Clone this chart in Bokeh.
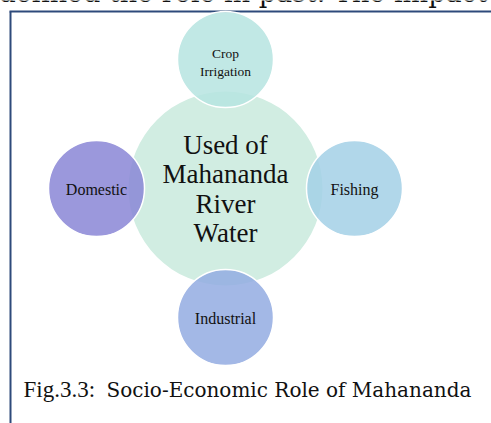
from bokeh.plotting import figure
from bokeh.models import Range1d, ColumnDataSource
from bokeh.core.properties import value
from bokeh.embed import file_html
from bokeh.resources import INLINE
import math

# --- data ---
center_label = ["Used of", "Mahananda", "River", "Water"]
uses = ["Crop\nIrrigation", "Fishing", "Industrial", "Domestic"]
use_angles_deg = [90, 0, 270, 180]
use_colors = ["#b6e4e0", "#a3d0e6", "#93ace2", "#8a86d6"]
center_color = "#d1ede2"
caption_bold = "Fig.3.3:"
caption_rest = "Socio-Economic Role of Mahananda"
top_text = "defined the role in past. The impact"

SERIF = value("'Liberation Serif'")
WIDE = value("'DejaVu Serif'")

W, H = 491, 423
p = figure(width=W, height=H, output_backend="svg", toolbar_location=None,
           x_range=Range1d(0, W), y_range=Range1d(H, 0),
           min_border=0, outline_line_color=None)
p.axis.visible = False
p.grid.visible = False
p.background_fill_color = "white"
p.border_fill_color = "white"

# clipped line of body text above the figure box (only its lower edge shows)
p.text(x=[487], y=[-8.5], text=[top_text], text_align="right", text_baseline="middle",
       text_font=WIDE, text_font_size="27px", text_color="#111111")

# frame lines (top and left border of the figure box)
border = "#2e4a7b"
p.line(x=[9, 500], y=[11, 11], line_color=border, line_width=2)
p.line(x=[10, 10], y=[11, 430], line_color=border, line_width=2)

cx, cy, R = 225, 188, 97
r_small = 48
dist = 129

p.circle(x=[cx], y=[cy], radius=R, fill_color=center_color, line_color=None)

xs, ys = [], []
for a in use_angles_deg:
    t = math.radians(a)
    xs.append(cx + dist * math.cos(t))
    ys.append(cy - dist * math.sin(t))

src = ColumnDataSource(dict(x=xs, y=ys, c=use_colors))
p.circle(x="x", y="y", radius=r_small, fill_color="c", fill_alpha=0.85,
         line_color="white", line_width=1.5, source=src)

# center text
mid0 = 144
step = 29.6
p.text(x=[cx] * len(center_label), y=[mid0 + i * step for i in range(len(center_label))],
       text=center_label, text_align="center", text_baseline="middle",
       text_font=SERIF, text_font_size="27px", text_color="#111111")

# satellite texts
for lab, x, y in zip(uses, xs, ys):
    lines = lab.split("\n")
    if len(lines) == 2:
        p.text(x=[x, x], y=[y - 6, y + 12], text=lines, text_align="center",
               text_baseline="middle", text_font=SERIF,
               text_font_size="13.5px", text_color="#111111")
    else:
        p.text(x=[x], y=[y + 0.5], text=[lab], text_align="center",
               text_baseline="middle", text_font=SERIF,
               text_font_size="16px", text_color="#111111")

# caption
p.text(x=[23], y=[389], text=[caption_bold], text_align="left", text_baseline="middle",
       text_font=SERIF, text_font_size="23px", text_color="#111111")
p.text(x=[106], y=[389], text=[caption_rest], text_align="left", text_baseline="middle",
       text_font=WIDE, text_font_size="20px", text_color="#111111")

open("out.html", "w").write(file_html(p, INLINE))
